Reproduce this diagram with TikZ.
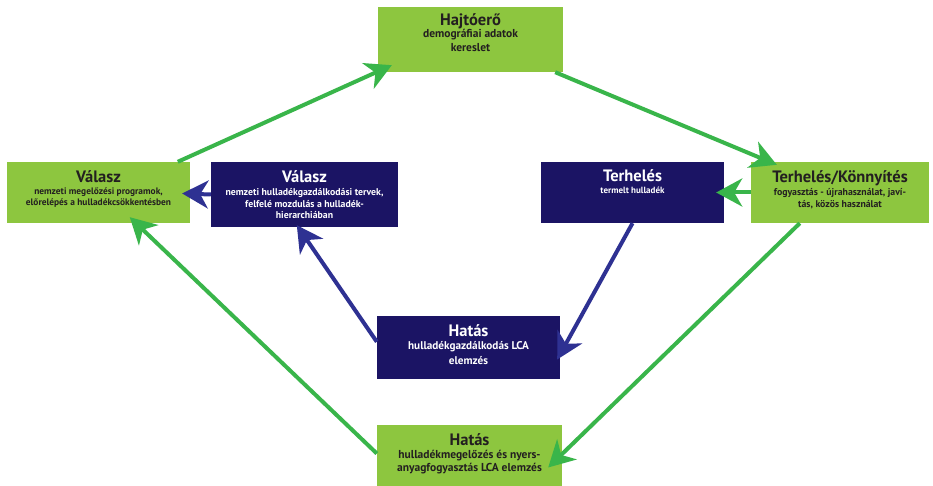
\documentclass[tikz,border=0pt]{standalone}
\usepackage{fontspec}
\setmainfont{PT Sans}
\usetikzlibrary{arrows.meta,calc}
\definecolor{boxgreen}{HTML}{8DC63F}
\definecolor{arrgreen}{HTML}{39B54A}
\definecolor{boxnavy}{HTML}{1B1464}
\definecolor{arrblue}{HTML}{2E3192}
\definecolor{txtdark}{HTML}{231F20}
\newcommand{\ttlfont}{\fontsize{16.5}{17}\selectfont\bfseries}
\begin{document}
\begin{tikzpicture}[x=1pt,y=-1pt,
  gbox/.style={rectangle,fill=boxgreen,draw=none,inner sep=0pt},
  nbox/.style={rectangle,fill=boxnavy,draw=none,inner sep=0pt},
  gtxt/.style={align=center,text=txtdark,inner sep=0pt,anchor=north,font=\bfseries},
  ntxt/.style={align=center,text=white,inner sep=0pt,anchor=north,font=\bfseries},
  garr/.style={draw=arrgreen,line width=4pt,-{Stealth[length=26pt,width=28pt,inset=8pt]}},
  narr/.style={draw=arrblue,line width=4pt,-{Stealth[length=26pt,width=28pt,inset=8pt]}}]
\useasboundingbox[fill=white] (0,0) rectangle (933,486);
% boxes
\node[gbox,minimum width=185pt,minimum height=65pt] (hajt) at (470.5,39.5) {};
\node[gbox,minimum width=183pt,minimum height=61pt] (valg) at (98.5,192.5) {};
\node[nbox,minimum width=187pt,minimum height=65pt] (valb) at (304.5,194.5) {};
\node[nbox,minimum width=183pt,minimum height=61pt] (terb) at (632.5,192.5) {};
\node[gbox,minimum width=178pt,minimum height=61pt] (terg) at (840,192.5) {};
\node[nbox,minimum width=183pt,minimum height=63pt] (hatb) at (468.5,347.5) {};
\node[gbox,minimum width=185pt,minimum height=61pt] (hatg) at (469.5,455.5) {};
% texts
\node[gtxt,font=\bfseries\fontsize{11.5}{14}\selectfont] (hajt-t) at ($(hajt.north)+(0,7)$)
  {{\ttlfont Hajtóerő}\\[-2pt]demográfiai adatok\\kereslet};
\node[gtxt,font=\bfseries\fontsize{9.4}{11}\selectfont] (valg-t) at ($(valg.north)+(0,9)$)
  {{\ttlfont Válasz}\\[1pt]nemzeti megelőzési programok,\\előrelépés a hulladékcsökkentésben};
\node[ntxt,font=\bfseries\fontsize{9.8}{11.7}\selectfont] (valb-t) at ($(valb.north)+(0,9)$)
  {{\ttlfont Válasz}\\[1pt]nemzeti hulladékgazdálkodási tervek,\\felfelé mozdulás a hulladék-\\hierarchiában};
\node[ntxt,font=\bfseries\fontsize{9}{11}\selectfont] (terb-t) at ($(terb.north)+(0,8)$)
  {{\ttlfont Terhelés}\\[1pt]termelt hulladék};
\node[gtxt,font=\bfseries\fontsize{9.8}{12}\selectfont] (terg-t) at ($(terg.north)+(0,9)$)
  {{\ttlfont Terhelés/Könnyítés}\\[1pt]fogyasztás - újrahasználat, javí-\\tás, közös használat};
\node[ntxt,font=\bfseries\fontsize{11.2}{15}\selectfont] (hatb-t) at ($(hatb.north)+(0,9)$)
  {{\ttlfont Hatás}\\[-2pt]hulladékgazdálkodás LCA\\elemzés};
\node[gtxt,font=\bfseries\fontsize{11.5}{13.5}\selectfont] (hatg-t) at ($(hatg.north)+(0,9)$)
  {{\ttlfont Hatás}\\[-1pt]hulladékmegelőzés és nyers-\\anyagfogyasztás LCA elemzés};
% green arrows
\draw[garr] ($(valg.north west)+(171,0)$) -- ($(hajt.south west)+(14,-7)$);
\draw[garr] ($(hajt.south east)+(-8,0)$) -- ($(terg.north west)+(26,3)$);
\draw[garr] (terg.west) -- ($(terb.east)+(-8,0)$);
\draw[garr] ($(terg.south west)+(49,0)$) -- ($(hatg.east)+(-14,12)$);
\draw[garr] ($(hatg.west)+(0,-2)$) -- ($(valg.south west)+(123,-6)$);
% navy arrows
\draw[narr] (valb.west) -- ($(valg.east)+(-8,1)$);
\draw[narr] ($(terb.south)+(0,0)$) -- ($(hatb.east)+(-3,12)$);
\draw[narr] ($(hatb.north west)+(0,26)$) -- ($(valb.south west)+(86,-2)$);
\end{tikzpicture}
\end{document}
